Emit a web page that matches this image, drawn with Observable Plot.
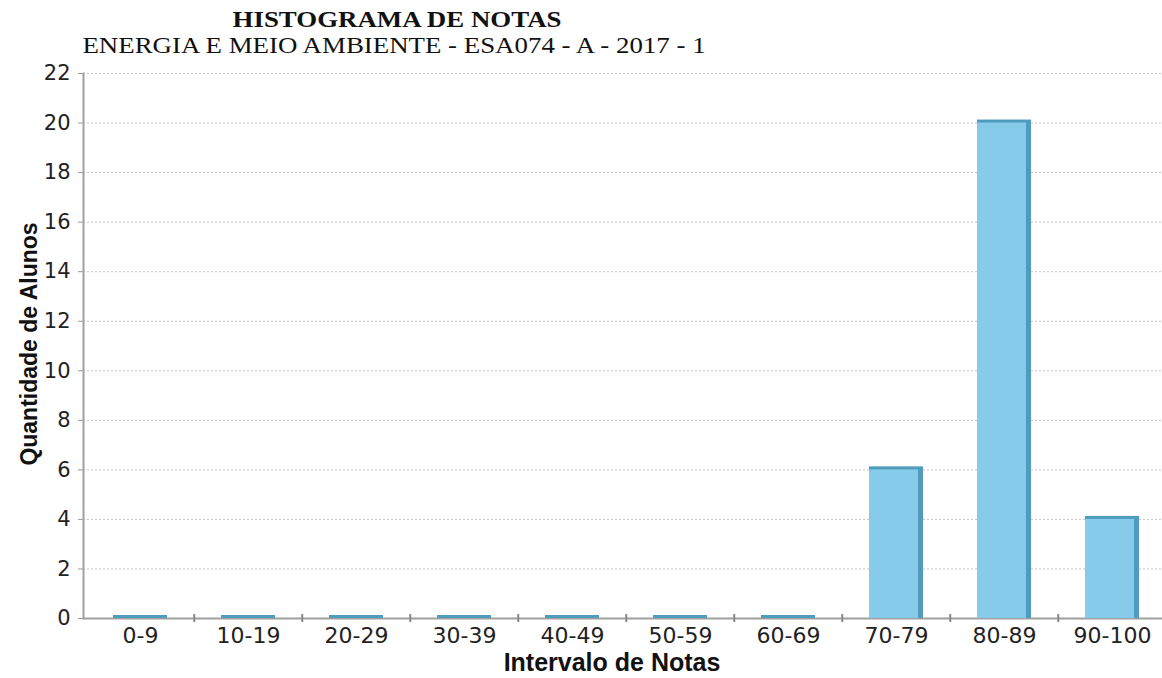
<!DOCTYPE html>
<html>
<head>
<meta charset="utf-8">
<script src="https://cdn.jsdelivr.net/npm/d3@7"></script>
<script src="https://cdn.jsdelivr.net/npm/@observablehq/plot@0.6"></script>
<style>
  html, body { margin: 0; padding: 0; background: #fff; }
  #wrap { position: relative; width: 1162px; height: 678px; overflow: hidden; background: #fff; }
  #chart svg { display: block; }
  #overlay { position: absolute; left: 0; top: 0; pointer-events: none; }
</style>
</head>
<body>
<div id="wrap">
  <div id="chart"></div>
  <svg id="overlay" width="1162" height="678"></svg>
</div>
<script>
// ---- data ----
const titleText = "HISTOGRAMA DE NOTAS";
const subtitleText = "ENERGIA E MEIO AMBIENTE - ESA074 - A - 2017 - 1";
const xTitle = "Intervalo de Notas";
const yTitle = "Quantidade de Alunos";
const categories = ["0-9", "10-19", "20-29", "30-39", "40-49", "50-59", "60-69", "70-79", "80-89", "90-100"];
const counts = [0, 0, 0, 0, 0, 0, 0, 6, 20, 4];
const yTicks = [0, 2, 4, 6, 8, 10, 12, 14, 16, 18, 20, 22];

const data = categories.map((c, i) => ({faixa: c, n: counts[i]}));
const boundaries = categories.slice(1);

const W = 1162, H = 678;
const left = 83, rightEnd = 1168;
const step = (rightEnd - left) / categories.length;

const chart = Plot.plot({
  width: W,
  height: H,
  marginTop: 73,
  marginBottom: 60,
  marginLeft: left,
  marginRight: 0,
  style: {fontFamily: "DejaVu Sans", fontSize: "21px", color: "#222", background: "#fff", overflow: "visible"},
  x: {domain: categories, range: [left, rightEnd], paddingInner: 0.5, paddingOuter: 0.25, label: null},
  y: {domain: [0, 22], label: null},
  marks: [
    Plot.gridY(yTicks.filter(d => d > 0), {stroke: "#c4c4c4", strokeOpacity: 1, strokeDasharray: "2,2"}),
    Plot.axisY(yTicks, {tickSize: 5, tickPadding: 8, fontSize: 21, label: null, stroke: "#9a9a9a", fill: "#222"}),
    Plot.axisX({tickSize: 0, tickPadding: 9, fontSize: 22, label: null, fill: "#222"}),
    Plot.frame({anchor: "left", stroke: "#a0a0a0", strokeWidth: 2}),
    Plot.ruleY([0], {stroke: "#a0a0a0", strokeWidth: 2}),
    Plot.ruleX(boundaries, {x: d => d, dx: -step / 2, y1: -0.16, y2: 0.16, stroke: "#888", strokeWidth: 2}),
    Plot.barY(data, {x: "faixa", y: "n", fill: "#4f9cbf", insetTop: -3}),
    Plot.barY(data, {x: "faixa", y: "n", fill: "#86cbe9", insetRight: 5, filter: d => d.n > 0})
  ]
});
document.getElementById("chart").appendChild(chart);

// ---- titles ----
const ov = d3.select("#overlay");
ov.append("text")
  .attr("transform", "translate(397,27) scale(1.12,1)")
  .attr("text-anchor", "middle")
  .attr("font-family", "Liberation Serif").attr("font-weight", "bold").attr("font-size", 24)
  .attr("fill", "#111")
  .text(titleText);
ov.append("text")
  .attr("transform", "translate(394,53) scale(1.12,1)")
  .attr("text-anchor", "middle")
  .attr("font-family", "Liberation Serif").attr("font-size", 24)
  .attr("fill", "#111")
  .text(subtitleText);
ov.append("text")
  .attr("transform", "translate(37,344) rotate(-90)")
  .attr("text-anchor", "middle")
  .attr("font-family", "Liberation Sans").attr("font-weight", "bold").attr("font-size", 23)
  .attr("fill", "#111")
  .text(yTitle);
ov.append("text")
  .attr("x", 612).attr("y", 671)
  .attr("text-anchor", "middle")
  .attr("font-family", "Liberation Sans").attr("font-weight", "bold").attr("font-size", 25)
  .attr("fill", "#111")
  .text(xTitle);
</script>
</body>
</html>
